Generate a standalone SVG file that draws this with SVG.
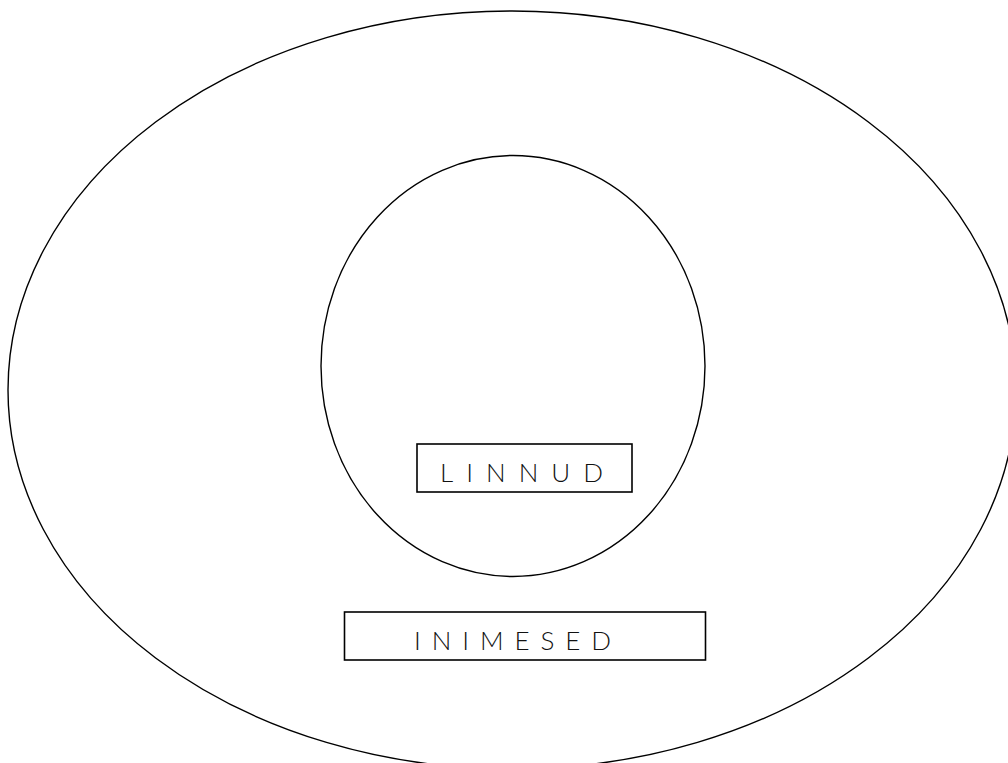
<svg xmlns="http://www.w3.org/2000/svg" width="1008" height="763" viewBox="0 0 1008 763">
<style>
.shape{fill:none;stroke:#000;stroke-width:1.4}
.box{fill:#fff;stroke:#000;stroke-width:1.6}
.lbl{font-family:Lato,"Liberation Sans",sans-serif;font-weight:300;font-size:26px;fill:#111}
</style>
<rect width="1008" height="763" fill="#fff"/>
<g id="inimesed-area"><ellipse class="shape" cx="512" cy="390" rx="504" ry="379"/></g>
<g id="linnud-area"><ellipse class="shape" cx="513" cy="366" rx="192" ry="210.5"/></g>
<g id="linnud">
<rect class="box" x="417" y="444" width="215" height="48"/>
<text class="lbl" x="440" y="482" textLength="163" lengthAdjust="spacing">LINNUD</text>
</g>
<g id="inimesed">
<rect class="box" x="344.5" y="612" width="361" height="48"/>
<text class="lbl" x="414" y="650" textLength="197" lengthAdjust="spacing">INIMESED</text>
</g>
<g id="connectors"/>
</svg>
